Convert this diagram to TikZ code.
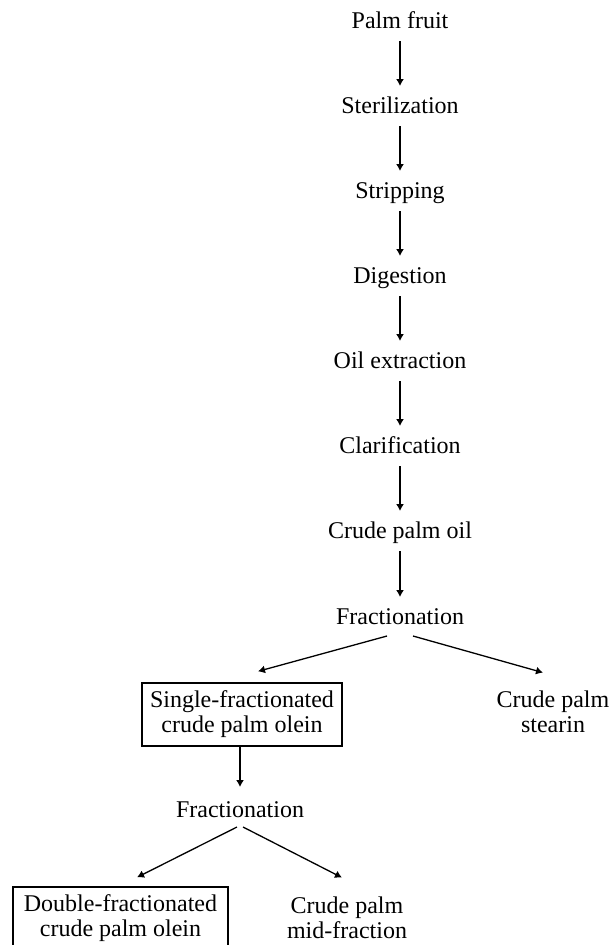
\documentclass[tikz,border=0pt]{standalone}
\usepackage{fontspec}
\setmainfont{Liberation Serif}
\usetikzlibrary{arrows.meta,calc}
\begin{document}
\begin{tikzpicture}[x=1pt,y=-1pt,
  every node/.style={font=\fontsize{24}{25}\selectfont, inner sep=0pt, align=center},
  lbl/.style={anchor=base},
  lbltwo/.style={anchor=north},
  boxed/.style={draw, line width=1.3pt, minimum height=63pt},
  arr/.style={line width=1.3pt, -{Latex[length=7pt,width=8pt]}}]
\useasboundingbox (0,0) rectangle (612,945);
\clip (0,0) rectangle (612,945);
\node[lbl] (pf) at (400,28) {Palm fruit};
\node[lbl] (st) at (400,113) {Sterilization};
\node[lbl] (sp) at (400,198) {Stripping};
\node[lbl] (dg) at (400,283) {Digestion};
\node[lbl] (oe) at (400,368) {Oil extraction};
\node[lbl] (cl) at (400,453) {Clarification};
\node[lbl] (cpo) at (400,538) {Crude palm oil};
\node[lbl] (fr1) at (400,624) {Fractionation};
\node[boxed, minimum width=200pt] (sf) at (242,714.5) {Single-fractionated\\crude palm olein};
\node[lbltwo] (cps) at (553,690.6) {Crude palm\\stearin};
\node[lbl] (fr2) at (240,817) {Fractionation};
\node[boxed, minimum width=215pt] (df) at (120.5,918.5) {Double-fractionated\\crude palm olein};
\node[lbltwo] (cpm) at (347,896.6) {Crude palm\\mid-fraction};
\foreach \a/\b in {pf/st, st/sp, sp/dg, dg/oe, oe/cl, cl/cpo, cpo/fr1}
  \draw[arr] ($(\a.base)+(0,13)$) -- ($(\b.base)+(0,-27)$);
\draw[arr] ($(fr1.base)+(-13,12)$) -- ($(sf.north)+(16,-11)$);
\draw[arr] ($(fr1.base)+(13,12)$) -- ($(cps.north)+(-10,-18)$);
\draw[arr] (sf.south -| fr2.base) -- ($(fr2.base)+(0,-30)$);
\draw[arr] ($(fr2.base)+(-3,10)$) -- ($(df.north)+(16.5,-9)$);
\draw[arr] ($(fr2.base)+(3,10)$) -- ($(cpm.north)+(-5,-19)$);
\end{tikzpicture}
\end{document}
